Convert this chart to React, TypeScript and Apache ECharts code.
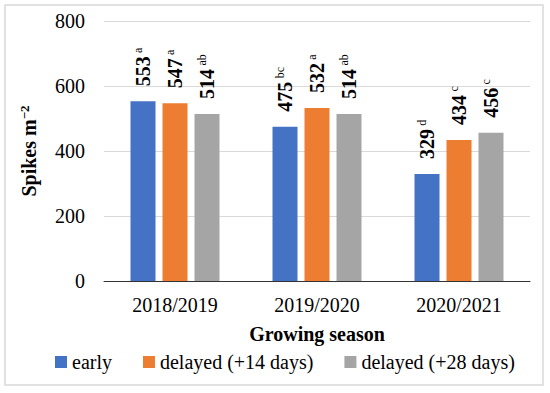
import React, { useEffect, useRef } from "react";
import * as echarts from "echarts";

const categories = ["2018/2019", "2019/2020", "2020/2021"];
const seriesNames = ["early", "delayed (+14 days)", "delayed (+28 days)"];
const earlyValues = [553, 475, 329];
const delayed14Values = [547, 532, 434];
const delayed28Values = [514, 514, 456];
const earlyLetters = ["a", "bc", "d"];
const delayed14Letters = ["a", "a", "c"];
const delayed28Letters = ["ab", "ab", "c"];
const colors = ["#4472C4", "#ED7D31", "#A5A5A5"];

const FONT = "'Liberation Serif', 'DejaVu Serif', serif";

export default function App() {
  const ref = useRef<HTMLDivElement>(null);
  useEffect(() => {
    if (!ref.current) return;
    const chart = echarts.init(ref.current, undefined, { renderer: "svg" });
    const values = [earlyValues, delayed14Values, delayed28Values];
    const letters = [earlyLetters, delayed14Letters, delayed28Letters];
    const series = values.map((vals, si) => ({
      name: seriesNames[si],
      type: "bar",
      data: vals,
      barWidth: 25,
      barGap: "28%",
      itemStyle: { color: colors[si] },
      label: {
        show: true,
        position: "top",
        distance: 15,
        rotate: 90,
        align: "left",
        verticalAlign: "middle",
        formatter: (p: any) => `{v|${p.value}} {s|${letters[si][p.dataIndex]}}`,
        rich: {
          v: { fontFamily: FONT, fontSize: 20, fontWeight: "bold", color: "#000", lineHeight: 22 },
          s: { fontFamily: FONT, fontSize: 12, color: "#000", verticalAlign: "top", lineHeight: 12 },
        },
      },
    }));
    chart.setOption({
      animation: false,
      graphic: [
        {
          type: "rect",
          shape: { x: 5, y: 5, width: 538, height: 380 },
          style: { fill: "none", stroke: "#d9d9d9", lineWidth: 1.5 },
          silent: true,
        },
      ],
      grid: { left: 104, right: 20, top: 21, bottom: 112 },
      legend: {
        top: 347,
        left: 50,
        itemWidth: 12,
        itemHeight: 12,
        itemGap: 31,
        icon: "rect",
        data: seriesNames,
        textStyle: { fontFamily: FONT, fontSize: 20, color: "#000" },
      },
      xAxis: {
        type: "category",
        data: categories,
        name: "Growing season",
        nameLocation: "middle",
        nameGap: 43,
        nameTextStyle: { fontFamily: FONT, fontSize: 20, fontWeight: "bold", color: "#000" },
        axisLine: { lineStyle: { color: "#333", width: 1 } },
        axisTick: { show: false },
        axisLabel: { fontFamily: FONT, fontSize: 20, color: "#000", margin: 14 },
      },
      yAxis: {
        type: "value",
        min: 0,
        max: 800,
        interval: 200,
        name: "{a|Spikes m}{b|−2}",
        nameLocation: "middle",
        nameGap: 64,
        nameTextStyle: {
          rich: {
            a: { fontFamily: FONT, fontSize: 20, fontWeight: "bold", color: "#000", lineHeight: 22 },
            b: { fontFamily: FONT, fontSize: 13, fontWeight: "bold", color: "#000", verticalAlign: "top", lineHeight: 13 },
          },
        },
        axisLine: { show: false },
        axisTick: { show: false },
        splitLine: { lineStyle: { color: "#d9d9d9", width: 1 } },
        axisLabel: { fontFamily: FONT, fontSize: 20, color: "#000", margin: 19 },
      },
      series,
    });
    return () => chart.dispose();
  }, []);
  return (
    <div
      ref={ref}
      style={{ position: "fixed", left: 0, top: 0, width: 550, height: 393, background: "#fff" }}
    />
  );
}
